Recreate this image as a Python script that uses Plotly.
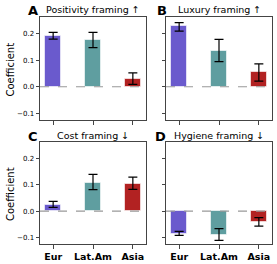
import plotly.graph_objects as go

categories = ["Eur", "Lat.Am", "Asia"]
colors = ["#6a5acd", "#5f9ea0", "#b22222"]

pos_vals = [0.191, 0.175, 0.029]
pos_hi = [0.204, 0.204, 0.052]
pos_lo = [0.179, 0.147, 0.009]

lux_vals = [0.227, 0.135, 0.054]
lux_hi = [0.241, 0.178, 0.086]
lux_lo = [0.209, 0.094, 0.021]

cost_vals = [0.022, 0.107, 0.104]
cost_hi = [0.037, 0.139, 0.129]
cost_lo = [0.014, 0.081, 0.082]

hyg_vals = [-0.086, -0.089, -0.042]
hyg_hi = [-0.077, -0.067, -0.025]
hyg_lo = [-0.092, -0.111, -0.057]

panels = [
    ("A", "Positivity framing ↑", pos_vals, pos_hi, pos_lo),
    ("B", "Luxury framing ↑", lux_vals, lux_hi, lux_lo),
    ("C", "Cost framing ↓", cost_vals, cost_hi, cost_lo),
    ("D", "Hygiene framing ↓", hyg_vals, hyg_hi, hyg_lo),
]

W, H = 277, 264
# pixel boxes (left, right, top, bottom)
boxes = [(40, 146, 17, 120), (166, 272, 17, 120), (40, 146, 142, 244), (166, 272, 142, 244)]
letter_x = [40, 169, 40, 168]

fig = go.Figure()
FONT = "DejaVu Sans"
axcol = "#444444"
xpos = list(range(len(categories)))

for i, (letter, title, vals, hi, lo) in enumerate(panels):
    n = i + 1
    xa = "x" if n == 1 else f"x{n}"
    ya = "y" if n == 1 else f"y{n}"
    fig.add_trace(go.Bar(
        x=xpos, y=vals, width=0.4,
        marker=dict(color=colors, line=dict(color="rgba(255,255,255,0.6)", width=1)),
        error_y=dict(type="data", symmetric=False,
                     array=[h - v for h, v in zip(hi, vals)],
                     arrayminus=[v - l for v, l in zip(vals, lo)],
                     color="black", thickness=1.2, width=4.5),
        xaxis=xa, yaxis=ya, showlegend=False,
    ))
    l, r, t, b = boxes[i]
    dom_x = [l / W, r / W]
    dom_y = [1 - b / H, 1 - t / H]
    bottom_row = i >= 2
    left_col = i % 2 == 0
    fig.layout[("xaxis" if n == 1 else f"xaxis{n}")] = dict(
        domain=dom_x, anchor=ya, range=[-0.33, 2.33],
        tickvals=xpos, ticktext=categories if bottom_row else ["", "", ""],
        showticklabels=bottom_row,
        tickfont=dict(family=FONT, size=9.5, color="black", weight="bold"),
        showline=True, mirror=True, linecolor=axcol, linewidth=1,
        ticks="outside", ticklen=3.5, tickcolor=axcol, showgrid=False, zeroline=False,
        fixedrange=True,
    )
    fig.layout[("yaxis" if n == 1 else f"yaxis{n}")] = dict(
        domain=dom_y, anchor=xa, range=[-0.125, 0.262],
        tickvals=[-0.1, 0.0, 0.1, 0.2], ticktext=["−0.1", "0.0", "0.1", "0.2"],
        showticklabels=left_col,
        tickfont=dict(family=FONT, size=7, color="black"),
        showline=True, mirror=True, linecolor=axcol, linewidth=1,
        ticks="outside", ticklen=3.5, tickcolor=axcol, showgrid=False, zeroline=False,
        fixedrange=True,
    )
    fig.add_shape(type="line", xref=f"{xa} domain", yref=ya, x0=0, x1=1, y0=0, y1=0,
                  line=dict(color="#999999", width=1.2, dash="dash"), layer="above")
    # title centered over panel
    fig.add_annotation(text=title, xref="paper", yref="paper",
                       x=(l + r) / 2 / W, y=1 - (t - 7) / H, xanchor="center", yanchor="middle",
                       showarrow=False, font=dict(family=FONT, size=9.5, color="black"))
    fig.add_annotation(text=f"<b>{letter}</b>", xref="paper", yref="paper",
                       x=letter_x[i] / W, y=1 - (t - 6) / H, xanchor="right", yanchor="middle",
                       showarrow=False, font=dict(family=FONT, size=13, color="black"))
    if left_col:
        fig.add_annotation(text="Coefficient", xref="paper", yref="paper",
                           x=10 / W, y=1 - ((t + b) / 2 + 1) / H, xanchor="center", yanchor="middle",
                           textangle=-90, showarrow=False,
                           font=dict(family=FONT, size=10, color="black"))

fig.update_layout(width=W, height=H, margin=dict(l=0, r=0, t=0, b=0),
                  paper_bgcolor="white", plot_bgcolor="white", bargap=0)
fig.write_html("out.html", config={"displayModeBar": False},
               post_script="document.body.style.margin='0';document.body.style.padding='0';")
